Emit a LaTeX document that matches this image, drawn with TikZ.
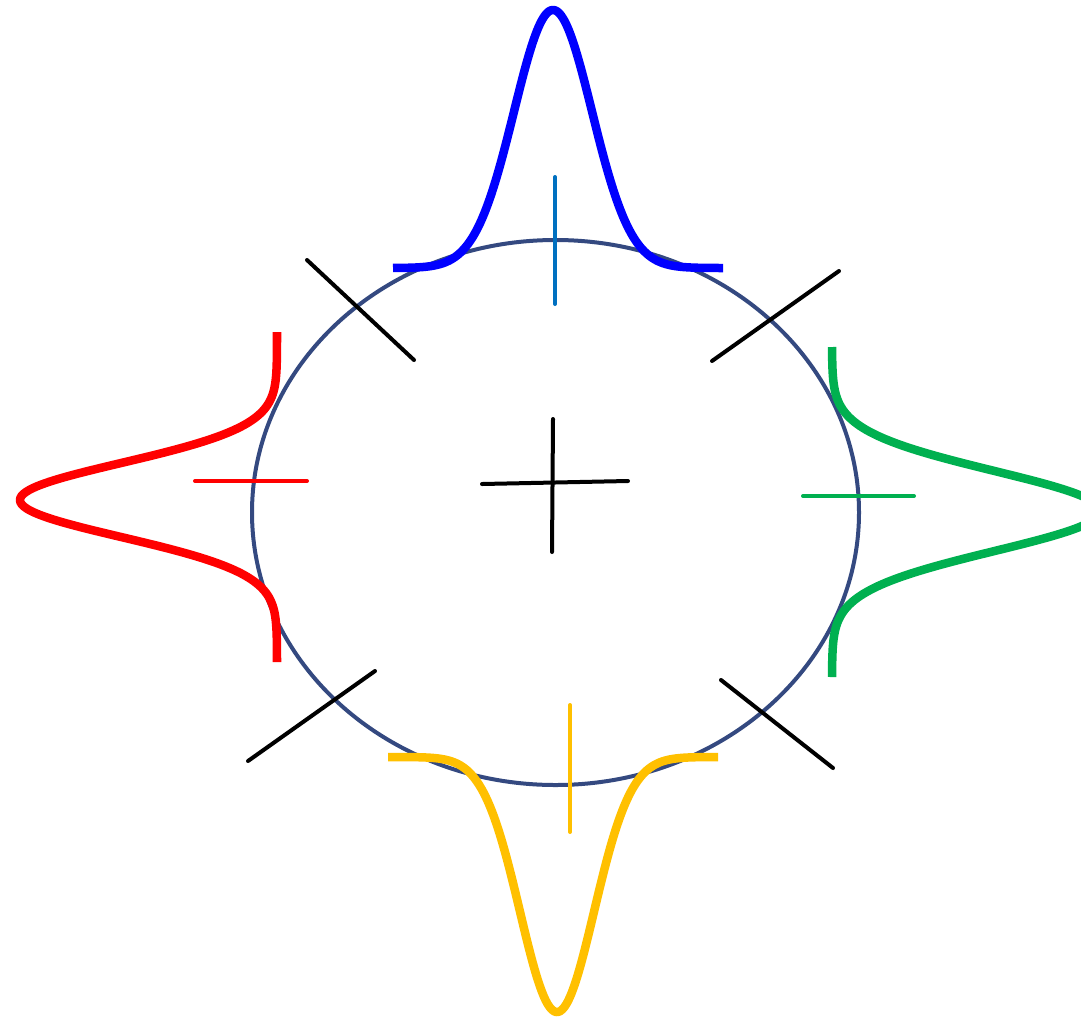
\documentclass[tikz,border=0pt]{standalone}
\begin{document}
\begin{tikzpicture}[x=1pt,y=-1pt,
  ring/.style={draw={rgb,255:red,52;green,73;blue,128}, line width=4pt},
  curve/.style={line width=8.5pt, line join=round},
  tick/.style={line width=4pt, line cap=round},
  blk/.style={tick, draw=black}]
\useasboundingbox (0,0) rectangle (1081,1021);
\clip (0,0) rectangle (1081,1021);
\definecolor{cblue}{RGB}{0,0,255}
\definecolor{lblue}{RGB}{0,112,192}
\definecolor{cred}{RGB}{255,0,0}
\definecolor{cgreen}{RGB}{0,176,80}
\definecolor{cyellow}{RGB}{255,192,0}
% ellipse
\draw[ring] (555.5,512.5) ellipse [x radius=303.5, y radius=272.5];
% gaussian curves
\draw[curve, cblue] plot[domain=393:723, samples=160, smooth, variable=\t]
  (\t, {268 - 258*exp(-((\t-553)/39)*((\t-553)/39)/2)});
\draw[curve, cyellow] plot[domain=388:718, samples=160, smooth, variable=\t]
  (\t, {757 + 255*exp(-((\t-557)/37)*((\t-557)/37)/2)});
\draw[curve, cred] plot[domain=332:662, samples=160, smooth, variable=\t]
  ({277 - 257*exp(-((\t-500)/37)*((\t-500)/37)/2)}, \t);
\draw[curve, cgreen] plot[domain=347:677, samples=160, smooth, variable=\t]
  ({832 + 268*exp(-((\t-511)/40)*((\t-511)/40)/2)}, \t);
% coloured ticks
\draw[tick, lblue] (555,177) -- (555,304);
\draw[tick, cred] (195,481) -- (307,481);
\draw[tick, cgreen] (803,496) -- (914,496);
\draw[tick, cyellow] (570,705) -- (570,832);
% black crosses
\draw[blk] (482,484) -- (628,481);
\draw[blk] (553,419) -- (552,552);
\draw[blk] (307,260) -- (414,360);
\draw[blk] (712,361) -- (839,271);
\draw[blk] (248,761) -- (375,671);
\draw[blk] (721,680) -- (833,768);
\end{tikzpicture}
\end{document}
